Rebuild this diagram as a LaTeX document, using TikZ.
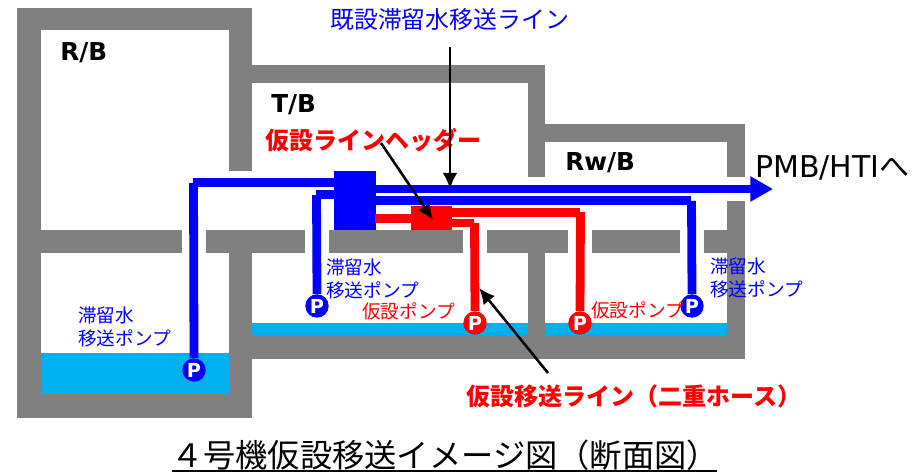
\documentclass[tikz,border=0pt]{standalone}
\usepackage{fontspec}
\setmainfont{DejaVu Sans}
\newfontfamily\cjk{Noto Sans CJK JP}
\usetikzlibrary{arrows.meta}
\definecolor{wallgray}{RGB}{128,128,128}
\definecolor{water}{RGB}{0,176,240}
\tikzset{
 wall/.style={fill=wallgray,draw=none},
 waterbox/.style={fill=water,draw=none},
 bluepipe/.style={draw=blue,line width=6.6pt,line cap=butt},
 redpipe/.style={draw=red,line width=6.6pt,line cap=butt},
 callout/.style={draw=black,line width=1.9pt,-{Latex[length=12pt,width=11pt]}},
 pump/.style={circle,minimum size=17.5pt,inner sep=0pt,text=white,font=\fontsize{14.5}{14.5}\selectfont\bfseries},
 bluelabel/.style={text=blue,font=\cjk\fontsize{14}{17}\selectfont,align=left,anchor=west,inner sep=0pt},
 redlabel/.style={text=red,font=\cjk\fontsize{14}{17}\selectfont,anchor=west,inner sep=0pt},
 blocklabel/.style={font=\fontsize{18.5}{18.5}\selectfont\bfseries,anchor=west,inner sep=0pt},
 boldred/.style={text=red,font=\cjk\bfseries\fontsize{18}{20}\selectfont,anchor=west,inner sep=0pt},
}
\begin{document}
\begin{tikzpicture}[x=0.75pt,y=-0.75pt]
\useasboundingbox (0,0) rectangle (923,473);
% water
\fill[waterbox] (41,353) rectangle (229,394);
\fill[waterbox] (252,323) rectangle (528,335);
\fill[waterbox] (545,323) rectangle (727,335);
% walls
\fill[wall] (17,8) rectangle (252,30);
\fill[wall] (17,8) rectangle (41,418);
\fill[wall] (17,394) rectangle (252,418);
\fill[wall] (229,8) rectangle (252,171);
\fill[wall] (229,230) rectangle (252,418);
\fill[wall] (252,65) rectangle (545,83);
\fill[wall] (528,65) rectangle (545,177);
\fill[wall] (545,124) rectangle (745,142);
\fill[wall] (727,124) rectangle (745,177);
\fill[wall] (727,201) rectangle (745,359);
\fill[wall] (252,335) rectangle (745,359);
\fill[wall] (528,230) rectangle (545,335);
\fill[wall] (41,230) rectangle (182,253);
\fill[wall] (206,230) rectangle (305,253);
\fill[wall] (329,230) rectangle (463,253);
\fill[wall] (487,230) rectangle (568,253);
\fill[wall] (592,230) rectangle (680,253);
\fill[wall] (704,230) rectangle (727,253);
% headers
\node[fill=blue,minimum width=31.5pt,minimum height=44.25pt,inner sep=0pt] (bluehead) at (355,200.5) {};
\node[fill=red,minimum width=30.75pt,minimum height=18pt,inner sep=0pt] (redhead) at (431.5,218) {};
% pumps
\node[pump,fill=blue] (p1) at (194,370) {P};
\node[pump,fill=blue] (p2) at (317,306) {P};
\node[pump,fill=blue] (p3) at (692,306) {P};
\node[pump,fill=red] (p4) at (475,323) {P};
\node[pump,fill=red] (p5) at (580,323) {P};
% corners
\coordinate (c1v) at (193.5,183);
\coordinate (c1h) at (193,182.5);
\coordinate (c2v) at (316.5,195);
\coordinate (c2h) at (316,194.5);
\coordinate (c3v) at (691.5,201);
\coordinate (c3h) at (691,200.5);
\coordinate (c4v) at (474.5,223);
\coordinate (c4h) at (474,223);
\coordinate (c5v) at (580.5,212);
\coordinate (c5h) at (580,212.5);
\coordinate (arrowtip) at (773,189);
\coordinate (redstub) at (375,218.5);
% blue pipes
\draw[bluepipe] (p1.north) -- (c1v);
\draw[bluepipe] (c1h) -- (bluehead.west |- c1h);
\draw[bluepipe] (p2.north) -- (c2v);
\draw[bluepipe] (c2h) -- (bluehead.west |- c2h);
\draw[bluepipe] (p3.north) -- (c3v);
\draw[bluepipe] (bluehead.east |- c3h) -- (c3h);
\draw[draw=blue,line width=5.4pt,-{Triangle[length=17pt,width=18pt]}] (bluehead.east |- arrowtip) -- (arrowtip);
% red pipes
\draw[redpipe] (redstub) -- (redhead.west |- redstub);
\draw[redpipe] (p4.north) -- (c4v);
\draw[redpipe] (redhead.east |- c4h) -- (c4h);
\draw[redpipe] (p5.north) -- (c5v);
\draw[redpipe] (redhead.east |- c5h) -- (c5h);
% labels
\node[blocklabel] (rb) at (60,53) {R/B};
\node[blocklabel] (tb) at (271,105) {T/B};
\node[blocklabel] (rwb) at (565,163) {Rw/B};
\node[anchor=west,inner sep=0pt,font=\fontsize{22.5}{22.5}\selectfont] (pmb) at (755,168) {PMB/HTI{\cjk へ}};
\node[anchor=west,inner sep=0pt,text=blue,font=\cjk\fontsize{17.9}{18}\selectfont] (kisetsu) at (330,20) {既設滞留水移送ライン};
\node[boldred] (header) at (265,140) {仮設ラインヘッダー};
\node[bluelabel] (l1) at (78,327) {滞留水\\移送ポンプ};
\node[bluelabel] (l2) at (326,279) {滞留水\\移送ポンプ};
\node[bluelabel] (l3) at (710,278) {滞留水\\移送ポンプ};
\node[redlabel] (r1) at (362,311) {仮設ポンプ};
\node[redlabel] (r2) at (591,310) {仮設ポンプ};
\node[boldred] (hose) at (466,396) {仮設移送ライン（二重ホース）};
\node[anchor=center,inner sep=0pt,font=\cjk\fontsize{24.2}{24}\selectfont] (title) at (445,455) {４号機仮設移送イメージ図（断面図）};
\coordinate (ulL) at (172,471);
\coordinate (ulR) at (717,471);
\draw[line width=1.3pt] (ulL) -- (ulR);
% callouts
\coordinate (a1s) at (450,47);
\coordinate (a1e) at (450,189);
\coordinate (a2s) at (381,143);
\coordinate (a2e) at (433,220);
\coordinate (a3s) at (548,373);
\coordinate (a3e) at (479,288);
\draw[callout] (a1s) -- (a1e);
\draw[callout] (a2s) -- (a2e);
\draw[callout] (a3s) -- (a3e);
\end{tikzpicture}
\end{document}
